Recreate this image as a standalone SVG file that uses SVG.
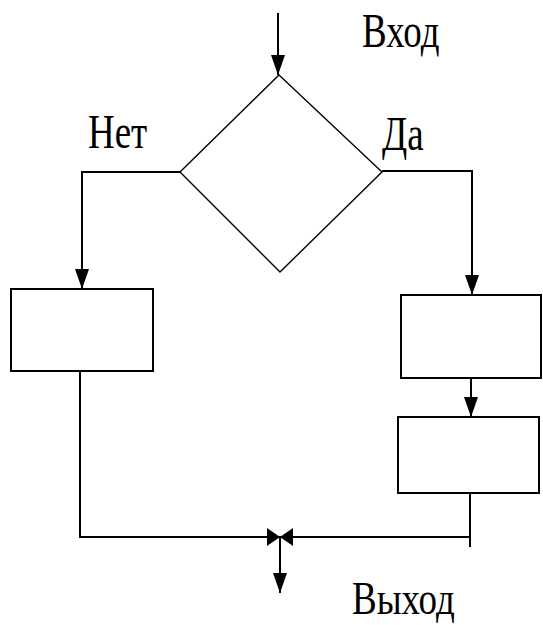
<svg xmlns="http://www.w3.org/2000/svg" width="543" height="625" viewBox="0 0 543 625">
<style>
.box{fill:#fff;stroke:#000;stroke-width:2}
.dia{fill:#fff;stroke:#000;stroke-width:1.4}
.ln{fill:none;stroke:#000;stroke-width:2}
.lbl{font-family:"Liberation Serif","Times New Roman",serif;font-size:37px;fill:#000}
</style>
<defs>
<marker id="ah" markerUnits="userSpaceOnUse" viewBox="0 -7 20 14" refX="20" refY="0" markerWidth="20" markerHeight="14" orient="auto"><path d="M0,-7 L20,0 L0,7 z" fill="#000"/></marker>
<marker id="bt" markerUnits="userSpaceOnUse" viewBox="0 -9 13 18" refX="13" refY="0" markerWidth="13" markerHeight="18" orient="auto"><path d="M0,-9 L13,0 L0,9 z" fill="#000"/></marker>
</defs>
<g id="decision"><polygon class="dia" points="279,75 382,172 280,272 180,172"/></g>
<g id="box-left"><rect class="box" x="11" y="289" width="142" height="82"/></g>
<g id="box-right-1"><rect class="box" x="401" y="295" width="140" height="83"/></g>
<g id="box-right-2"><rect class="box" x="398" y="417" width="141" height="76"/></g>
<g id="connectors">
<path class="ln" d="M278,13 V75" marker-end="url(#ah)"/>
<path class="ln" d="M180,172 H82 V289" marker-end="url(#ah)"/>
<path class="ln" d="M382,171 H472 V295" marker-end="url(#ah)"/>
<path class="ln" d="M471,378 V417" marker-end="url(#ah)"/>
<path class="ln" d="M80,371 V537 H280" marker-end="url(#bt)"/>
<path class="ln" d="M470,493 V547"/>
<path class="ln" d="M470,537 H280" marker-end="url(#bt)"/>
<path class="ln" d="M280,537 V593" marker-end="url(#ah)"/>
</g>
<g id="labels">
<text class="lbl" transform="translate(362,47) scale(1,1.33)">Вход</text>
<text class="lbl" transform="translate(88,148) scale(1,1.33)">Нет</text>
<text class="lbl" transform="translate(382,150) scale(1,1.33)">Да</text>
<text class="lbl" transform="translate(352,614) scale(1,1.25)">Выход</text>
</g>
</svg>
